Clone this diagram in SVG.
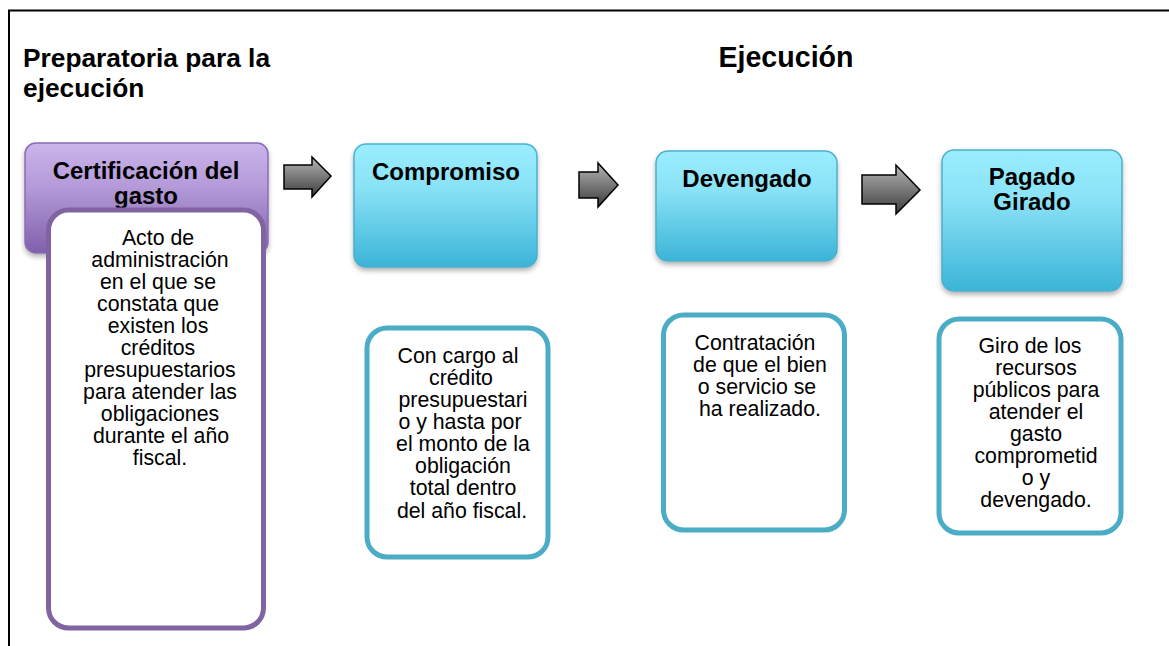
<svg xmlns="http://www.w3.org/2000/svg" width="1169" height="646" viewBox="0 0 1169 646">
<defs>
<linearGradient id="gPurple" x1="0" y1="0" x2="0" y2="1">
<stop offset="0" stop-color="#cbb5ec"/>
<stop offset="0.4" stop-color="#b49ad8"/>
<stop offset="1" stop-color="#8060ac"/>
</linearGradient>
<linearGradient id="gTeal" x1="0" y1="0" x2="0" y2="1">
<stop offset="0" stop-color="#9aedff"/>
<stop offset="0.35" stop-color="#8ae2f6"/>
<stop offset="1" stop-color="#3bb4d8"/>
</linearGradient>
<linearGradient id="gArrow" x1="0" y1="0" x2="0" y2="1">
<stop offset="0" stop-color="#b5b5b5"/>
<stop offset="1" stop-color="#3c3c3c"/>
</linearGradient>
<filter id="sh" x="-10%" y="-10%" width="130%" height="130%">
<feDropShadow dx="0" dy="3" stdDeviation="2.5" flood-color="#000" flood-opacity="0.3"/>
</filter>
<style>
.title{font-family:"Liberation Sans",Arial,sans-serif;font-weight:bold;fill:#000}
.head{font-family:"Liberation Sans",Arial,sans-serif;font-weight:bold;font-size:24px;fill:#000;text-anchor:middle}
.body{font-family:"Liberation Sans",Arial,sans-serif;font-size:21.3px;fill:#000;text-anchor:middle}
.tealbox{fill:url(#gTeal);stroke:#4ab0cc;stroke-width:1.5}
.desc-teal{fill:#fff;stroke:#4bacc6;stroke-width:5}
.arrow{fill:url(#gArrow);stroke:#000;stroke-width:1.5}
</style>
</defs>
<rect x="9" y="10.5" width="1170" height="700" fill="#fff" stroke="#000" stroke-width="2"/>
<text class="title" x="23" y="67" font-size="26.3px">Preparatoria para la</text>
<text class="title" x="23" y="97" font-size="26.3px">ejecución</text>
<text class="title" x="786" y="67" font-size="28.6px" text-anchor="middle">Ejecución</text>

<g id="connectors">
<path class="arrow" d="M284,165 L312,165 L312,157 L331,176 L312,197 L312,189 L284,189 Z"/>
<path class="arrow" d="M579,172 L598,172 L598,163 L618,185 L598,207 L598,198 L579,198 Z"/>
<path class="arrow" d="M862,175 L896,175 L896,165 L920,190 L896,214 L896,204 L862,204 Z"/>
</g>

<g id="certificacion">
<rect x="25" y="143" width="243" height="110" rx="11" fill="url(#gPurple)" stroke="#8a6cb4" stroke-width="1.5" filter="url(#sh)"/>
<text class="head" x="146" y="179">Certificación del</text>
<text class="head" x="146" y="204">gasto</text>
</g>
<g id="certificacion-desc">
<rect x="48.5" y="210" width="215" height="418" rx="20" fill="#fff" stroke="#8064a2" stroke-width="5"/>
<text class="body" x="158" y="245">Acto de</text>
<text class="body" x="160" y="267">administración</text>
<text class="body" x="158" y="289">en el que se</text>
<text class="body" x="158" y="311">constata que</text>
<text class="body" x="158" y="333">existen los</text>
<text class="body" x="158" y="355">créditos</text>
<text class="body" x="160" y="377">presupuestarios</text>
<text class="body" x="160" y="399">para atender las</text>
<text class="body" x="160" y="421">obligaciones</text>
<text class="body" x="161" y="443">durante el año</text>
<text class="body" x="160" y="465">fiscal.</text>
</g>

<g id="compromiso">
<rect class="tealbox" x="354" y="144" width="183" height="123" rx="12" filter="url(#sh)"/>
<text class="head" x="446" y="180">Compromiso</text>
</g>
<g id="compromiso-desc">
<rect class="desc-teal" x="367" y="328" width="181" height="229" rx="20"/>
<text class="body" x="458" y="363">Con cargo al</text>
<text class="body" x="461" y="385">crédito</text>
<text class="body" x="463" y="407">presupuestari</text>
<text class="body" x="460" y="429">o y hasta por</text>
<text class="body" x="463" y="451">el monto de la</text>
<text class="body" x="463" y="473">obligación</text>
<text class="body" x="463" y="495">total dentro</text>
<text class="body" x="462" y="518">del año fiscal.</text>
</g>

<g id="devengado">
<rect class="tealbox" x="656" y="151" width="181" height="110" rx="12" filter="url(#sh)"/>
<text class="head" x="747" y="187">Devengado</text>
</g>
<g id="devengado-desc">
<rect class="desc-teal" x="663.5" y="315" width="181" height="215" rx="20"/>
<text class="body" x="755" y="350">Contratación</text>
<text class="body" x="760" y="372">de que el bien</text>
<text class="body" x="757" y="394">o servicio se</text>
<text class="body" x="760" y="416">ha realizado.</text>
</g>

<g id="pagado">
<rect class="tealbox" x="942" y="150" width="180" height="141" rx="12" filter="url(#sh)"/>
<text class="head" x="1032" y="185">Pagado</text>
<text class="head" x="1032" y="210">Girado</text>
</g>
<g id="pagado-desc">
<rect class="desc-teal" x="939" y="319" width="182" height="214" rx="20"/>
<text class="body" x="1030" y="353">Giro de los</text>
<text class="body" x="1036" y="375">recursos</text>
<text class="body" x="1036" y="397">públicos para</text>
<text class="body" x="1036" y="419">atender el</text>
<text class="body" x="1036" y="441">gasto</text>
<text class="body" x="1036" y="463">comprometid</text>
<text class="body" x="1036" y="485">o y</text>
<text class="body" x="1036" y="507">devengado.</text>
</g>
</svg>
